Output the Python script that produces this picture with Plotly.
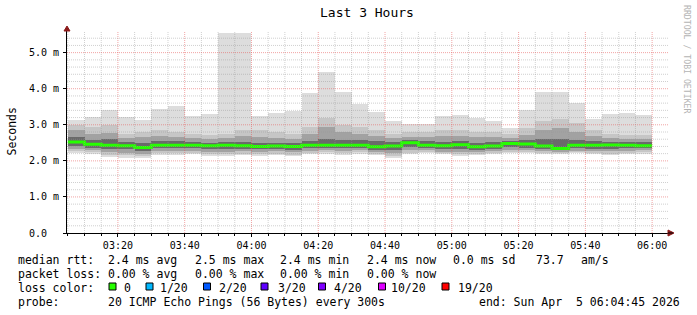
import plotly.graph_objects as go
import pandas as pd
import numpy as np

# ---------------- data (ms) ----------------
rtt_max = [3.13, 3.22, 3.41, 3.22, 3.13, 3.44, 3.52, 3.25, 3.30, 5.54, 5.54, 3.25, 3.33, 3.37, 3.88, 4.46, 3.91, 3.59,
           3.36, 3.10, 3.02, 3.02, 3.24, 3.27, 3.20, 3.10, 2.90, 3.40, 3.91, 3.91, 3.61, 3.16, 3.29, 3.33, 3.27]
rtt_hi2 = [3.00, 2.95, 3.00, 2.75, 2.80, 2.85, 2.80, 2.75, 2.72, 2.75, 2.85, 2.85, 2.80, 2.75, 2.95, 3.20, 3.00, 2.95,
           2.85, 2.75, 2.80, 2.80, 2.85, 2.85, 2.80, 2.80, 2.75, 2.90, 3.10, 3.15, 3.05, 2.85, 2.75, 2.72, 2.72]
rtt_hi = [2.85, 2.75, 2.78, 2.62, 2.65, 2.70, 2.65, 2.62, 2.60, 2.62, 2.68, 2.65, 2.62, 2.60, 2.75, 2.95, 2.80, 2.75,
          2.70, 2.62, 2.65, 2.65, 2.68, 2.70, 2.65, 2.65, 2.62, 2.72, 2.85, 2.90, 2.80, 2.70, 2.62, 2.60, 2.60]
rtt_hid = [2.65, 2.58, 2.60, 2.52, 2.50, 2.55, 2.55, 2.52, 2.50, 2.52, 2.52, 2.50, 2.50, 2.50, 2.55, 2.60, 2.58, 2.58,
           2.55, 2.52, 2.58, 2.55, 2.52, 2.55, 2.50, 2.52, 2.56, 2.58, 2.60, 2.60, 2.58, 2.55, 2.52, 2.52, 2.52]
rtt_median = [2.52, 2.46, 2.43, 2.42, 2.37, 2.43, 2.43, 2.43, 2.42, 2.43, 2.42, 2.40, 2.41, 2.40, 2.43, 2.43, 2.43, 2.43,
              2.39, 2.41, 2.50, 2.43, 2.42, 2.45, 2.39, 2.41, 2.48, 2.47, 2.41, 2.34, 2.43, 2.43, 2.44, 2.43, 2.42]
rtt_lod = [2.40, 2.36, 2.33, 2.32, 2.28, 2.35, 2.35, 2.36, 2.33, 2.33, 2.34, 2.32, 2.33, 2.30, 2.35, 2.36, 2.35, 2.36,
           2.31, 2.30, 2.38, 2.36, 2.32, 2.33, 2.30, 2.32, 2.38, 2.37, 2.33, 2.30, 2.35, 2.34, 2.34, 2.36, 2.36]
rtt_lo = [2.33, 2.30, 2.25, 2.22, 2.20, 2.28, 2.27, 2.28, 2.25, 2.25, 2.27, 2.25, 2.26, 2.24, 2.28, 2.30, 2.28, 2.29,
          2.24, 2.22, 2.30, 2.30, 2.25, 2.25, 2.24, 2.26, 2.30, 2.30, 2.27, 2.25, 2.28, 2.27, 2.26, 2.28, 2.29]
rtt_lo2 = [2.27, 2.25, 2.17, 2.15, 2.13, 2.21, 2.21, 2.22, 2.18, 2.18, 2.20, 2.18, 2.20, 2.17, 2.22, 2.24, 2.21, 2.24,
           2.20, 2.14, 2.22, 2.25, 2.21, 2.18, 2.20, 2.21, 2.25, 2.25, 2.23, 2.22, 2.24, 2.21, 2.20, 2.23, 2.24]
rtt_min = [2.21, 2.20, 2.11, 2.09, 2.08, 2.16, 2.16, 2.18, 2.14, 2.13, 2.16, 2.13, 2.16, 2.13, 2.18, 2.20, 2.16, 2.20,
           2.16, 2.09, 2.18, 2.22, 2.18, 2.13, 2.16, 2.18, 2.22, 2.22, 2.19, 2.20, 2.22, 2.18, 2.16, 2.19, 2.20]

first_step = "2026-04-05 03:05:00"
range_start = "2026-04-05 03:04:45"
range_end = "2026-04-05 06:04:45"

y_tickvals = [0, 1, 2, 3, 4, 5]
y_ticktext = ["0.0\u00a0\u00a0", "1.0 m", "2.0 m", "3.0 m", "4.0 m", "5.0 m"]

loss_labels = ["0", "1/20", "2/20", "3/20", "4/20", "10/20", "19/20"]
loss_colors = ["#26ff00", "#00b8ff", "#0059ff", "#5e00ff", "#7e00ff", "#dd00ff", "#ff0000"]

# ---------------- layout geometry ----------------
W, H = 697, 315
L, R, T, B = 67, 29, 31, 82
PW, PH = W - L - R, H - T - B
MONO = "DejaVu Sans Mono"


def px(xp):
    return (xp - L) / PW


def py(yp):
    return (H - B - yp) / PH


n = len(rtt_median)
starts = pd.date_range(first_step, periods=n, freq="5min")
centers = starts + pd.Timedelta(seconds=150)

fig = go.Figure()
bands = [(rtt_min, rtt_max, "#dddddd"), (rtt_lo2, rtt_hi2, "#c6c6c6"),
         (rtt_lo, rtt_hi, "#a2a2a2"), (rtt_lod, rtt_hid, "#6a6a6a")]
for lo, hi, col in bands:
    lo = np.array(lo)
    hi = np.array(hi)
    fig.add_trace(go.Bar(x=centers, y=hi - lo, base=lo, width=300000,
                         marker=dict(color=col, line=dict(width=0)),
                         hoverinfo="skip", showlegend=False))

xs = list(starts) + [starts[-1] + pd.Timedelta(minutes=5)]
ys = list(rtt_median) + [rtt_median[-1]]
fig.add_trace(go.Scatter(x=xs, y=ys, mode="lines",
                         line=dict(color=loss_colors[0], width=3, shape="hv"),
                         hoverinfo="skip", showlegend=False))

shapes = []
# grid drawn above the smoke, like rrdtool
for t in pd.date_range("2026-04-05 03:05:00", "2026-04-05 06:00:00", freq="5min"):
    major = t.minute % 20 == 0
    shapes.append(dict(type="line", xref="x", yref="paper", x0=t, x1=t, y0=0, y1=1, layer="above",
                       line=dict(color="rgba(230,90,90,0.55)" if major else "rgba(150,150,150,0.45)",
                                 width=1, dash="1px,1px")))
for k in range(1, 28):
    v = k * 0.2
    major = k % 5 == 0
    shapes.append(dict(type="line", xref="paper", yref="y", x0=0, x1=1, y0=v, y1=v, layer="above",
                       line=dict(color="rgba(230,90,90,0.55)" if major else "rgba(150,150,150,0.45)",
                                 width=1, dash="1px,1px")))
# axis arrows
shapes.append(dict(type="path", xref="paper", yref="paper", xsizemode="pixel", ysizemode="pixel",
                   xanchor=1, yanchor=0, path="M 0 -3 L 6 0 L 0 3 Z",
                   fillcolor="#8b1a1a", line=dict(color="#8b1a1a", width=1), layer="above"))
shapes.append(dict(type="path", xref="paper", yref="paper", xsizemode="pixel", ysizemode="pixel",
                   xanchor=0, yanchor=1, path="M -3 0 L 3 0 L 0 5 Z",
                   fillcolor="#8b1a1a", line=dict(color="#8b1a1a", width=1), layer="above"))
shapes.append(dict(type="line", xref="paper", yref="paper", xsizemode="pixel", xanchor=1,
                   x0=0, x1=5, y0=0, y1=0, line=dict(color="#000000", width=1), layer="above"))

# loss colour boxes
box_x = [109, 146, 203.5, 261, 318.5, 378.5, 442]
for bx, col in zip(box_x, loss_colors):
    shapes.append(dict(type="rect", xref="paper", yref="paper",
                       x0=px(bx), x1=px(bx + 7), y0=py(290), y1=py(283),
                       fillcolor=col, line=dict(color="#000000", width=1)))

ann = []


def text(s, xp, yp, size=11.5, anchor="left", color="#000000", angle=0):
    ann.append(dict(text=s.replace(" ", "\u00a0"), x=px(xp), y=py(yp), xref="paper", yref="paper",
                    xanchor=anchor, yanchor="middle", showarrow=False, textangle=angle,
                    font=dict(family=MONO, size=size, color=color), borderpad=0))


text("Last 3 Hours", 366.5, 13, size=13, anchor="center")
text("Seconds", 11.5, 132, size=11.5, anchor="center", angle=-90)
text("RRDTOOL / TOBI OETIKER", 687, 59, size=8.2, anchor="center", color="#b4b4b4", angle=90)

row1 = [("median rtt:", 16.7), ("2.4 ms avg", 107), ("2.5 ms max", 194), ("2.4 ms min", 279),
        ("2.4 ms now", 365.7), ("0.0 ms sd", 451.7), ("73.7", 535), ("am/s", 580)]
row2 = [("packet loss:", 16.7), ("0.00 % avg", 107), ("0.00 % max", 194), ("0.00 % min", 279),
        ("0.00 % now", 365.7)]
row4 = [("probe:", 16.7), ("20 ICMP Echo Pings (56 Bytes) every 300s", 107),
        ("end: Sun Apr  5 06:04:45 2026", 478.3)]
for s, x in row1:
    text(s, x, 260)
for s, x in row2:
    text(s, x, 273.5)
text("loss color:", 16.7, 287.5)
label_x = [123.3, 159.3, 218.3, 276.7, 333.3, 390, 457.3]
for s, x in zip(loss_labels, label_x):
    text(s, x, 287.5)
for s, x in row4:
    text(s, x, 301.5)

fig.update_layout(
    width=W, height=H, margin=dict(l=L, r=R, t=T, b=B, pad=0),
    paper_bgcolor="#ffffff", plot_bgcolor="#ffffff",
    barmode="overlay", bargap=0, showlegend=False,
    shapes=shapes, annotations=ann,
    font=dict(family=MONO, size=10, color="#000000"),
    xaxis=dict(type="date", range=[range_start, range_end], showgrid=False, zeroline=False,
               tick0="2026-04-05 03:00:00", dtick=1200000, tickformat="%H:%M",
               ticks="outside", ticklen=3, tickcolor="#000000", showline=True,
               linecolor="#000000", linewidth=1, layer="above traces",
               tickfont=dict(family=MONO, size=10, color="#000000"),
               minor=dict(dtick=300000, ticks="outside", ticklen=2, tickcolor="#000000", showgrid=False)),
    yaxis=dict(range=[0, 5.6], showgrid=False, zeroline=False, tickvals=y_tickvals, ticktext=y_ticktext,
               ticks="outside", ticklen=3, tickcolor="#000000", showline=True,
               linecolor="#000000", linewidth=1, layer="above traces",
               tickfont=dict(family=MONO, size=10, color="#000000"), ticklabelstandoff=2),
)

fig.write_html("out.html")
